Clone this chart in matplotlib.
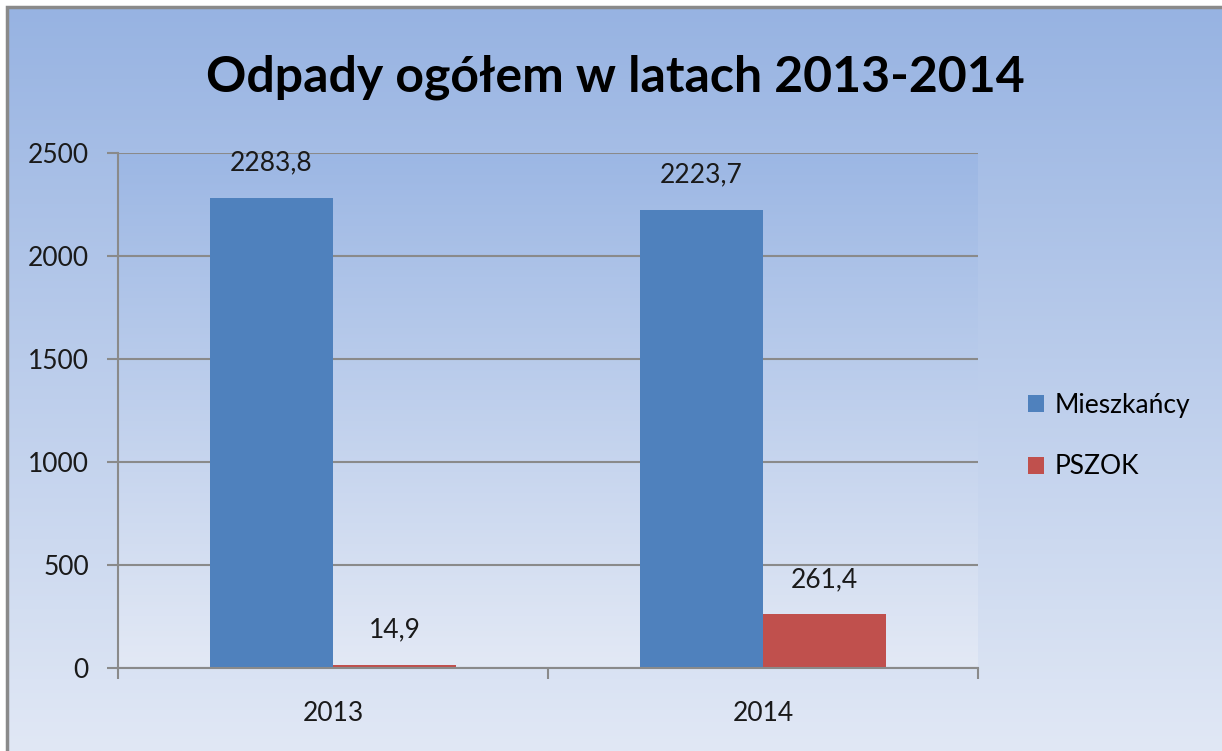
import numpy as np
import matplotlib
matplotlib.use('Agg')
import matplotlib.pyplot as plt
from matplotlib.colors import LinearSegmentedColormap
from matplotlib.patches import Rectangle

plt.rcParams['font.family'] = ['Lato', 'DejaVu Sans']

title = 'Odpady ogółem w latach 2013-2014'
years = ['2013', '2014']
series = ['Mieszkańcy', 'PSZOK']
mieszkancy = [2283.8, 2223.7]
pszok = [14.9, 261.4]
yticks = [0, 500, 1000, 1500, 2000, 2500]
colors = ['#4f81bd', '#c0504d']

fig = plt.figure(figsize=(12.22, 7.51), dpi=100)

# background gradient of the whole chart area
bg = fig.add_axes([0, 0, 1, 1], zorder=-10)
bg.set_axis_off()
grad = np.linspace(0, 1, 256).reshape(-1, 1)
cmap_bg = LinearSegmentedColormap.from_list('bg', ['#97b3e2', '#e1e8f5'])
bg.imshow(grad, aspect='auto', cmap=cmap_bg, extent=[7 / 1222, 1, 0, 1 - 7 / 751])
bg.set_xlim(0, 1)
bg.set_ylim(0, 1)
bg.add_patch(Rectangle((7 / 1222, -0.01), 1.0, 1 - 7 / 751 + 0.01, fill=False,
                       edgecolor='#8a8a8a', linewidth=2.5))

ax = fig.add_axes([118 / 1222, 1 - 668 / 751, (978 - 118) / 1222, (668 - 153) / 751])
cmap_ax = LinearSegmentedColormap.from_list('ax', ['#9cb7e4', '#e3e9f5'])
ax.imshow(grad, aspect='auto', cmap=cmap_ax, extent=[0, 2, 0, 2500], zorder=0)

x = np.arange(len(years)) + 0.5
w = 123 / 430
b1 = ax.bar(x - w / 2, mieszkancy, w, color=colors[0], label=series[0], zorder=3)
b2 = ax.bar(x + w / 2, pszok, w, color=colors[1], label=series[1], zorder=3)

fs = 19
for bars, vals in ((b1, mieszkancy), (b2, pszok)):
    for r, v in zip(bars, vals):
        ax.annotate(('%.1f' % v).replace('.', ','), (r.get_x() + r.get_width() / 2, v),
                    xytext=(0, 25), textcoords='offset points', ha='center', va='center',
                    fontsize=fs, color='#1a1a1a')

ax.set_xlim(0, 2)
ax.set_ylim(0, 2500)
ax.set_yticks(yticks)
ax.set_yticklabels([str(t) for t in yticks], fontsize=fs, color='#1a1a1a')
ax.set_xticks([0, 1, 2])
ax.set_xticklabels([])
ax.set_xticks(x, minor=True)
ax.set_xticklabels(years, minor=True, fontsize=fs, color='#1a1a1a')
ax.tick_params(axis='x', which='minor', length=0, pad=24)
ax.tick_params(axis='x', which='major', length=8, width=1.5, color='#8a8a8a')
ax.tick_params(axis='y', length=8, width=1.5, color='#8a8a8a', pad=13)
ax.grid(axis='y', color='#8a8a8a', linewidth=1.5, zorder=1)
for s in ('top', 'right'):
    ax.spines[s].set_visible(False)
for s in ('left', 'bottom'):
    ax.spines[s].set_color('#8a8a8a')
    ax.spines[s].set_linewidth(1.5)
    ax.spines[s].set_zorder(4)

fig.legend(handles=[b1, b2], labels=series, loc='center left',
           bbox_to_anchor=(1004 / 1222, 1 - 436 / 751), frameon=False, fontsize=fs,
           handlelength=0.6, handleheight=0.6, handletextpad=0.4, labelspacing=1.4)

fig.text(615 / 1222, 1 - 77 / 751, title, ha='center', va='center',
         fontsize=36, fontweight='bold', color='black')

fig.savefig('out.png', dpi=100)
